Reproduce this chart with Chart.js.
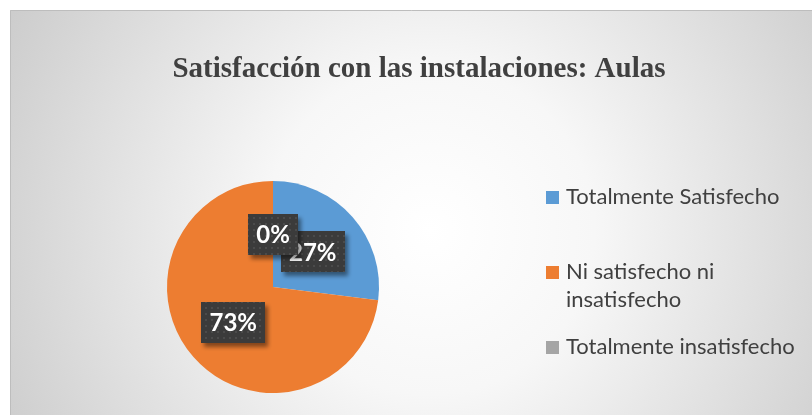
<!DOCTYPE html>
<html>
<head>
<meta charset="utf-8">
<script src="https://cdn.jsdelivr.net/npm/chart.js@4"></script>
<style>
  html, body { margin: 0; padding: 0; background: #ffffff; }
  #wrap { width: 812px; height: 415px; position: relative; }
</style>
</head>
<body>
<div id="wrap"><canvas id="chart" width="812" height="415"></canvas></div>
<script>
const chartTitle = "Satisfacción con las instalaciones: Aulas";
const categories = ["Totalmente Satisfecho", "Ni satisfecho ni insatisfecho", "Totalmente insatisfecho"];
const percentValues = [27, 73, 0];
const sliceColors = ["#5B9BD5", "#ED7D31", "#A5A5A5"];

// dotted dark fill used behind the percentage labels
function makeLabelPattern(ctx) {
  let c = document.createElement("canvas");
  c.width = 6;
  c.height = 6;
  let p = c.getContext("2d");
  p.fillStyle = "#3b3b3b";
  p.fillRect(0, 0, 6, 6);
  p.fillStyle = "#4b4b4b";
  p.fillRect(1, 1, 2, 2);
  return ctx.createPattern(c, "repeat");
}

function wrapText(ctx, text, maxWidth) {
  let words = text.split(" ");
  let lines = [];
  let line = "";
  words.forEach((w) => {
    let test = line ? line + " " + w : w;
    if (ctx.measureText(test).width > maxWidth && line) {
      lines.push(line);
      line = w;
    } else {
      line = test;
    }
  });
  lines.push(line);
  return lines;
}

const backgroundPlugin = {
  id: "bgBox",
  beforeDraw(chart) {
    let ctx = chart.ctx;
    ctx.save();
    ctx.fillStyle = "#ffffff";
    ctx.fillRect(0, 0, chart.width, chart.height);
    let g = ctx.createRadialGradient(430, 230, 0, 430, 230, 470);
    g.addColorStop(0, "#ffffff");
    g.addColorStop(0.35, "#f7f7f7");
    g.addColorStop(1, "#cdcdcd");
    ctx.fillStyle = g;
    ctx.fillRect(10, 10, chart.width - 10, chart.height - 10);
    ctx.strokeStyle = "#bdbdbd";
    ctx.lineWidth = 1;
    ctx.beginPath();
    ctx.moveTo(10.5, chart.height);
    ctx.lineTo(10.5, 10.5);
    ctx.lineTo(chart.width, 10.5);
    ctx.stroke();

    // title
    ctx.fillStyle = "#404040";
    ctx.font = "bold 29px 'Liberation Serif', 'Times New Roman', serif";
    ctx.textAlign = "center";
    ctx.textBaseline = "middle";
    ctx.fillText(chartTitle, 419, 70);
    ctx.restore();
  },
};

const labelsPlugin = {
  id: "pctLabels",
  afterDatasetsDraw(chart) {
    let ctx = chart.ctx;
    let meta = chart.getDatasetMeta(0);
    let pattern = makeLabelPattern(ctx);
    ctx.save();
    ctx.font = "bold 24px Lato, 'Open Sans', sans-serif";
    ctx.textAlign = "center";
    ctx.textBaseline = "middle";
    meta.data.forEach((arc, i) => {
      let pos = arc.tooltipPosition();
      let txt = percentValues[i] + "%";
      let w = ctx.measureText(txt).width + 16;
      let h = 41;
      ctx.save();
      ctx.shadowColor = "rgba(0,0,0,0.45)";
      ctx.shadowBlur = 4;
      ctx.shadowOffsetX = 3;
      ctx.shadowOffsetY = 4;
      ctx.fillStyle = pattern;
      ctx.fillRect(Math.round(pos.x - w / 2), Math.round(pos.y - h / 2), Math.round(w), h);
      ctx.restore();
      ctx.fillStyle = "#ffffff";
      ctx.fillText(txt, pos.x, pos.y + 1);
    });
    ctx.restore();
  },
};

const legendPlugin = {
  id: "sideLegend",
  afterDraw(chart) {
    let ctx = chart.ctx;
    ctx.save();
    ctx.font = "22px Lato, 'Open Sans', sans-serif";
    ctx.textBaseline = "middle";
    ctx.textAlign = "left";
    let y = 197;
    categories.forEach((cat, i) => {
      ctx.fillStyle = sliceColors[i];
      ctx.fillRect(546, y - 6, 13, 13);
      ctx.fillStyle = "#404040";
      let lines = wrapText(ctx, cat, 240);
      lines.forEach((ln, j) => {
        ctx.fillText(ln, 566, y + j * 28);
      });
      y += 75;
    });
    ctx.restore();
  },
};

new Chart(document.getElementById("chart"), {
  type: "pie",
  data: {
    labels: categories,
    datasets: [
      {
        data: percentValues,
        backgroundColor: sliceColors,
        borderWidth: 0,
      },
    ],
  },
  options: {
    responsive: false,
    animation: false,
    layout: {
      padding: { left: 167, right: 433, top: 181, bottom: 22 },
    },
    plugins: {
      legend: { display: false },
      title: { display: false },
      tooltip: { enabled: false },
    },
  },
  plugins: [backgroundPlugin, labelsPlugin, legendPlugin],
});
</script>
</body>
</html>
